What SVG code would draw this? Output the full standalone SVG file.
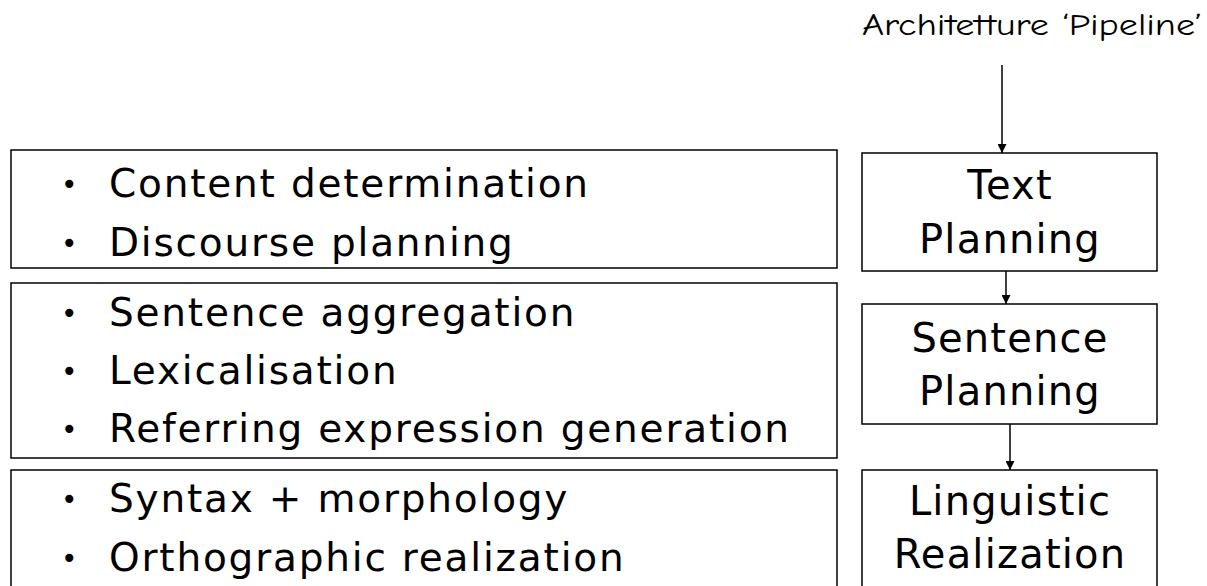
<svg xmlns="http://www.w3.org/2000/svg" width="1207" height="586" viewBox="0 0 1207 586">
  <defs>
    <marker id="arrow" viewBox="0 0 10 10" refX="10" refY="5" markerWidth="9" markerHeight="9" markerUnits="userSpaceOnUse" orient="auto">
      <path d="M0,0 L10,5 L0,10 z" fill="#000"/>
    </marker>
    <style>
      .box { fill: #fff; stroke: #000; stroke-width: 1.5; }
      .item { font-family: "DejaVu Sans", "Verdana", sans-serif; font-size: 39px; fill: #000; letter-spacing: 1.8px; }
      .bullet { font-family: "DejaVu Sans", sans-serif; font-size: 28px; fill: #000; }
      .stage { font-family: "DejaVu Sans", "Verdana", sans-serif; font-size: 40px; fill: #000; text-anchor: middle; letter-spacing: 1.2px; }
      .title { font-family: "Comic Neue", "Liberation Sans", sans-serif; font-size: 31px; fill: #000; text-anchor: middle; }
      .conn { stroke: #000; stroke-width: 1.5; fill: none; marker-end: url(#arrow); }
    </style>
  </defs>
  <rect x="0" y="0" width="1207" height="586" fill="#fff"/>

  <g id="title">
    <text class="title" x="1032" y="35" textLength="340" lengthAdjust="spacingAndGlyphs">Architetture ‘Pipeline’</text>
  </g>

  <g id="list-text-planning">
    <rect class="box" x="11" y="150" width="826" height="118"/>
    <text class="bullet" x="61" y="194">•</text>
    <text class="item" x="109" y="197">Content determination</text>
    <text class="bullet" x="61" y="253">•</text>
    <text class="item" x="109" y="256">Discourse planning</text>
  </g>

  <g id="list-sentence-planning">
    <rect class="box" x="11" y="283" width="826" height="175"/>
    <text class="bullet" x="61" y="323">•</text>
    <text class="item" x="109" y="326">Sentence aggregation</text>
    <text class="bullet" x="61" y="381">•</text>
    <text class="item" x="109" y="384">Lexicalisation</text>
    <text class="bullet" x="61" y="439">•</text>
    <text class="item" x="109" y="442">Referring expression generation</text>
  </g>

  <g id="list-linguistic-realization">
    <rect class="box" x="11" y="470" width="826" height="130"/>
    <text class="bullet" x="61" y="509">•</text>
    <text class="item" x="109" y="512">Syntax + morphology</text>
    <text class="bullet" x="61" y="568">•</text>
    <text class="item" x="109" y="571">Orthographic realization</text>
  </g>

  <g id="text-planning">
    <rect class="box" x="862" y="153" width="295" height="118"/>
    <text class="stage" x="1010" y="199">Text</text>
    <text class="stage" x="1010" y="253">Planning</text>
  </g>

  <g id="sentence-planning">
    <rect class="box" x="862" y="304" width="295" height="120"/>
    <text class="stage" x="1010" y="352">Sentence</text>
    <text class="stage" x="1010" y="405">Planning</text>
  </g>

  <g id="linguistic-realization">
    <rect class="box" x="862" y="470" width="295" height="130"/>
    <text class="stage" x="1010" y="515">Linguistic</text>
    <text class="stage" x="1010" y="568">Realization</text>
  </g>

  <g id="connectors">
    <line class="conn" x1="1002" y1="65" x2="1002" y2="153"/>
    <line class="conn" x1="1006" y1="271" x2="1006" y2="304"/>
    <line class="conn" x1="1010" y1="424" x2="1010" y2="470"/>
  </g>
</svg>
